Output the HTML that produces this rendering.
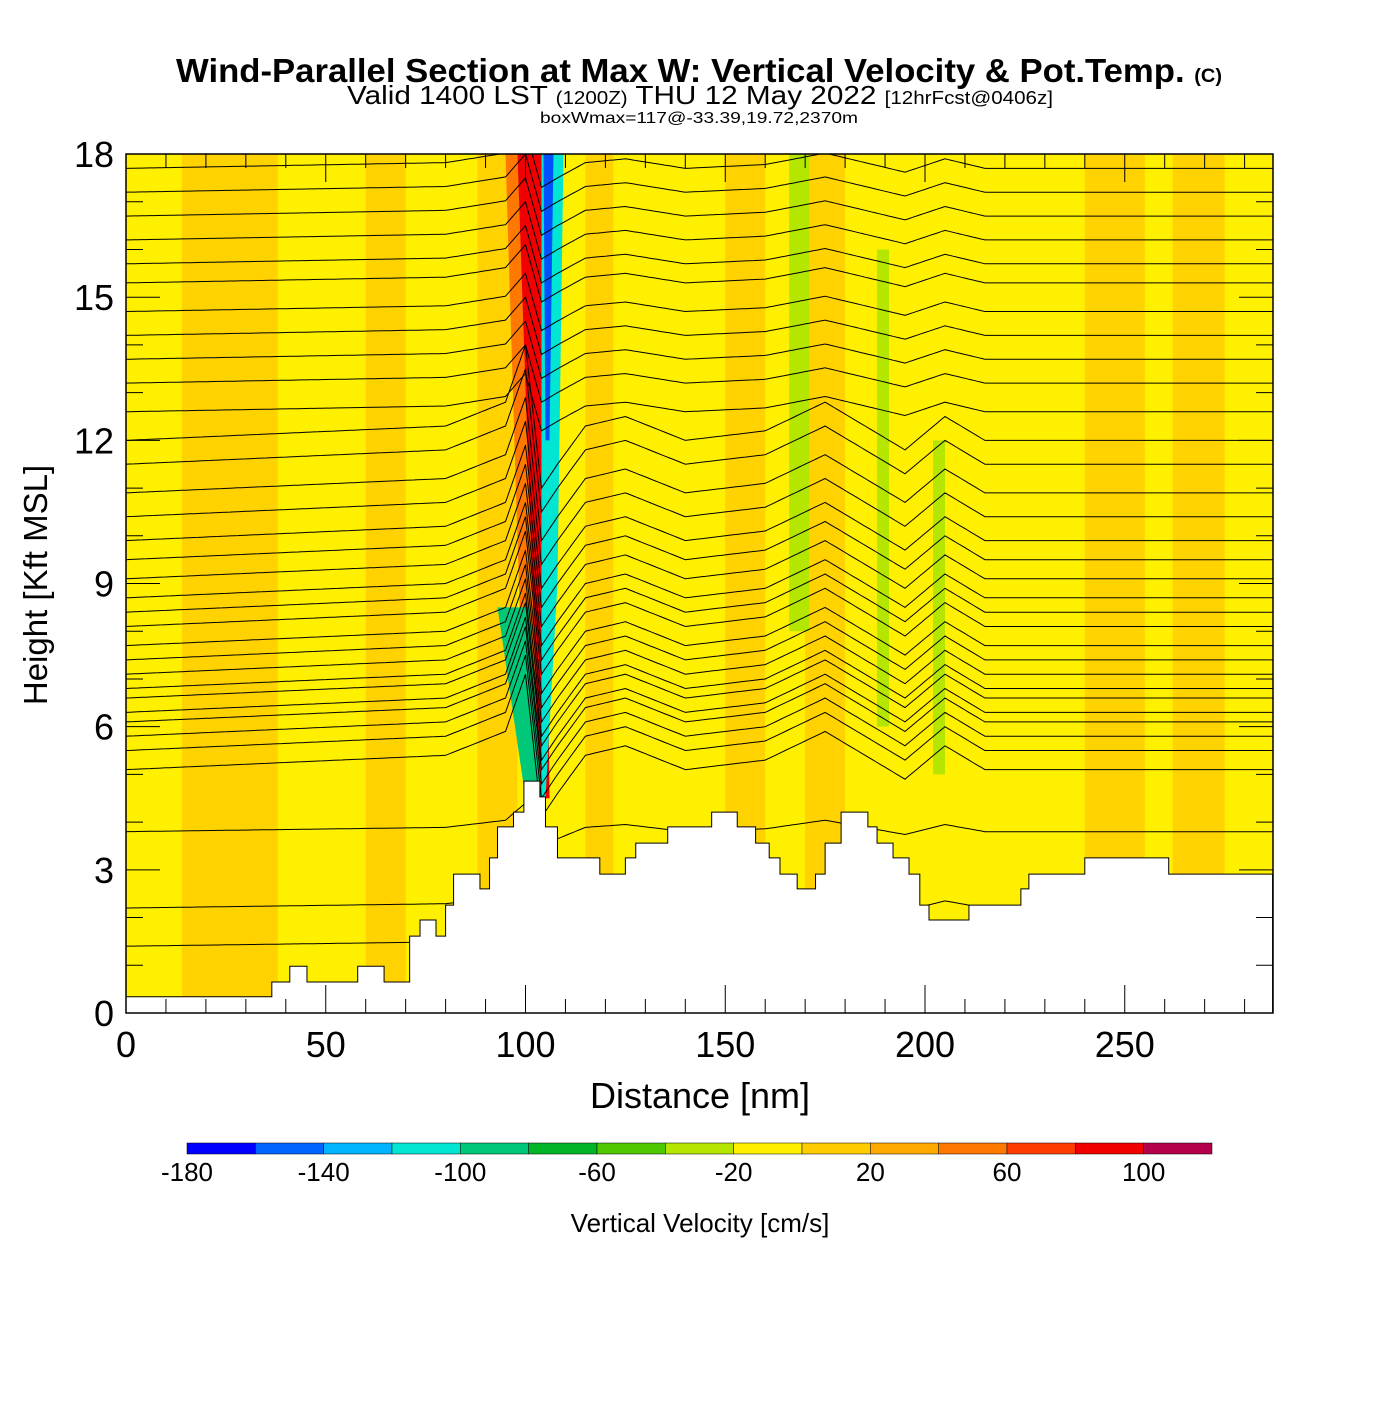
<!DOCTYPE html>
<html><head><meta charset="utf-8"><style>
body{margin:0;background:#fff;width:1400px;height:1400px;overflow:hidden;font-family:"Liberation Sans",sans-serif}
</style></head><body>
<svg id="chart" width="1400" height="1400" xmlns="http://www.w3.org/2000/svg">
<text x="176" y="82" font-size="33" font-weight="bold" textLength="1046" lengthAdjust="spacingAndGlyphs">Wind-Parallel Section at Max W: Vertical Velocity &amp; Pot.Temp. <tspan font-size="19">(C)</tspan></text>
<text x="347" y="104" font-size="26" textLength="706" lengthAdjust="spacingAndGlyphs">Valid 1400 LST <tspan font-size="18">(1200Z)</tspan> THU 12 May 2022 <tspan font-size="18">[12hrFcst@0406z]</tspan></text>
<text x="540" y="123" font-size="16" textLength="318" lengthAdjust="spacingAndGlyphs">boxWmax=117@-33.39,19.72,2370m</text>
<defs><clipPath id="pc"><rect x="126" y="154" width="1147" height="859"/></clipPath></defs>
<g id="plot" clip-path="url(#pc)"></g>
<g id="axes"></g>
<g id="cbar"></g>
<text x="700" y="1108" text-anchor="middle" font-size="36">Distance [nm]</text>
<text transform="translate(47,585) rotate(-90)" text-anchor="middle" font-size="33">Height [Kft MSL]</text>
<text x="700" y="1232" text-anchor="middle" font-size="26">Vertical Velocity [cm/s]</text>
</svg>
<script>
const xTicks=[0,50,100,150,200,250];
const yTicks=[0,3,6,9,12,15,18];
const terrainD=[0,36.5,41,45.3,58,64.6,71,73.6,77.6,80,82,88.6,91,93,97,99.6,103.6,105,108,118.6,125,127.6,135.6,146.6,153,157.6,161,163.7,168,172.6,175,179,185.7,188,192,196,198.7,201,211,224,226,240,261];
const terrainH=[0.34,0.65,0.98,0.65,0.98,0.65,1.61,1.95,1.61,2.26,2.91,2.6,3.25,3.9,4.21,4.86,4.53,3.9,3.25,2.91,3.25,3.56,3.9,4.21,3.9,3.56,3.25,2.91,2.6,2.91,3.56,4.21,3.9,3.56,3.25,2.91,2.26,1.95,2.26,2.6,2.91,3.25,2.91];
const thetaBase=[17.7,17.2,16.7,16.2,15.7,15.3,14.7,14.2,13.7,13.2,12.6,12.0,11.5,10.9,10.4,9.9,9.5,9.1,8.7,8.4,8.1,7.7,7.4,7.1,6.8,6.6,6.3,6.1,5.8,5.5,5.1,3.8,2.2,1.4];
const dispD=[0,80,95,100,104,108,115,125,140,160,175,185,195,205,215,240,287];
const dispV=[0,0.3,0.8,2,-1,-0.5,0.3,0.5,0,0.2,0.8,0.3,-0.2,0.5,0,0,0];
const bandStart=[14,60,88,115,150,170,240,262];
const bandEnd=[38,70,98,122,160,180,255,275];
const cbVals=[-180,-160,-140,-120,-100,-80,-60,-40,-20,0,20,40,60,80,100,120];
const cbColors=["#0000ff","#0064ff","#00b4ff","#00e6d2","#00c878","#00b428","#50c800","#b4e600","#fff000","#ffcc00","#ffaa00","#ff7800","#ff3c00","#f00000","#b4004b"];
const cbLabels=[-180,-140,-100,-60,-20,20,60,100];

const X=d=>126+d*3.995, Y=h=>1013-h*47.72;
const NS="http://www.w3.org/2000/svg";
function mk(tag,attrs,parent){const e=document.createElementNS(NS,tag);for(const k in attrs)e.setAttribute(k,attrs[k]);parent.appendChild(e);return e;}
const plot=document.getElementById('plot'),axes=document.getElementById('axes'),cbar=document.getElementById('cbar');
let bg=mk('rect',{x:126,y:154,width:1147,height:859,fill:'#fff000'},plot);


bandStart.forEach((s,i)=>{const r=mk('rect',{x:X(s),y:154,width:X(bandEnd[i])-X(s),height:859,fill:'#ffd200'},plot);

});
[[166,171,8,18],[188,191,6,16],[202,205,5,12]].forEach(b=>{const r=mk('rect',{x:X(b[0]),y:Y(b[3]),width:X(b[1])-X(b[0]),height:Y(b[2])-Y(b[3]),fill:'#b4e600'},plot);

});
let p=mk('polygon',{points:`${X(95)},${Y(18)} ${X(104.5)},${Y(18)} ${X(106)},${Y(4.5)} ${X(100)},${Y(4.5)}`,fill:'#ff7800'},plot);


p=mk('polygon',{points:`${X(98)},${Y(18)} ${X(104)},${Y(18)} ${X(106)},${Y(4.5)} ${X(103.5)},${Y(4.5)}`,fill:'#f00000'},plot);


p=mk('polygon',{points:`${X(93)},${Y(8.5)} ${X(101)},${Y(8.5)} ${X(104)},${Y(4.5)} ${X(100)},${Y(4.5)}`,fill:'#00c878'},plot);


p=mk('polygon',{points:`${X(104)},${Y(18)} ${X(109.5)},${Y(18)} ${X(108)},${Y(9)} ${X(105)},${Y(4.5)} ${X(104)},${Y(4.5)}`,fill:'#00e6d2'},plot);


p=mk('polygon',{points:`${X(104.5)},${Y(18)} ${X(107)},${Y(18)} ${X(106)},${Y(12)} ${X(105)},${Y(12)}`,fill:'#0050ff'},plot);


function disp(d){for(let i=0;i<dispD.length-1;i++){if(d>=dispD[i]&&d<=dispD[i+1]){const t=(d-dispD[i])/(dispD[i+1]-dispD[i]);return dispV[i]+t*(dispV[i+1]-dispV[i]);}}return 0;}
thetaBase.forEach((h,i)=>{let w=h>12?0.4:(h>4?1:0.3);let pts=[];for(let d=0;d<=287;d+=1){pts.push(X(d).toFixed(1)+','+Y(h+disp(d)*w).toFixed(1));}
const l=mk('polyline',{points:pts.join(' '),fill:'none',stroke:'#000','stroke-width':1},plot);

});
let tp=[];terrainD.forEach((d,i)=>{const e=i<terrainD.length-1?terrainD[i+1]:287;tp.push(X(d)+','+Y(terrainH[i]));tp.push(X(e)+','+Y(terrainH[i]));});
tp.push(X(287)+','+Y(0));tp.push(X(0)+','+Y(0));
const ter=mk('polygon',{points:tp.join(' '),fill:'#fff',stroke:'#000','stroke-width':1},plot);


const fr=mk('rect',{x:126,y:154,width:1147,height:859,fill:'none',stroke:'#000','stroke-width':1.5},axes);


for(let d=10;d<287;d+=10){const big=d%50===0;const L=big?28:14;
mk('line',{x1:X(d),y1:1013,x2:X(d),y2:1013-L,stroke:'#000'},axes);mk('line',{x1:X(d),y1:154,x2:X(d),y2:154+L,stroke:'#000'},axes);}
for(let h=1;h<18;h++){const big=h%3===0;const L=big?34:17;
mk('line',{x1:126,y1:Y(h),x2:126+L,y2:Y(h),stroke:'#000'},axes);mk('line',{x1:1273,y1:Y(h),x2:1273-L,y2:Y(h),stroke:'#000'},axes);}
xTicks.forEach(t=>{const e=mk('text',{x:X(t),y:1057,'text-anchor':'middle','font-size':36},axes);e.textContent=t;

});
yTicks.forEach(t=>{const e=mk('text',{x:114,y:Y(t)+13,'text-anchor':'end','font-size':36},axes);e.textContent=t;

});
const cw=(1212-187)/cbColors.length;
cbColors.forEach((c,i)=>{const r=mk('rect',{x:187+i*cw,y:1143,width:cw,height:11,fill:c,stroke:'#000','stroke-width':0.5},cbar);

});
cbLabels.forEach(v=>{const i=cbVals.indexOf(v);const e=mk('text',{x:187+i*cw,y:1181,'text-anchor':'middle','font-size':26},cbar);e.textContent=v;

});
</script>
</body></html>
